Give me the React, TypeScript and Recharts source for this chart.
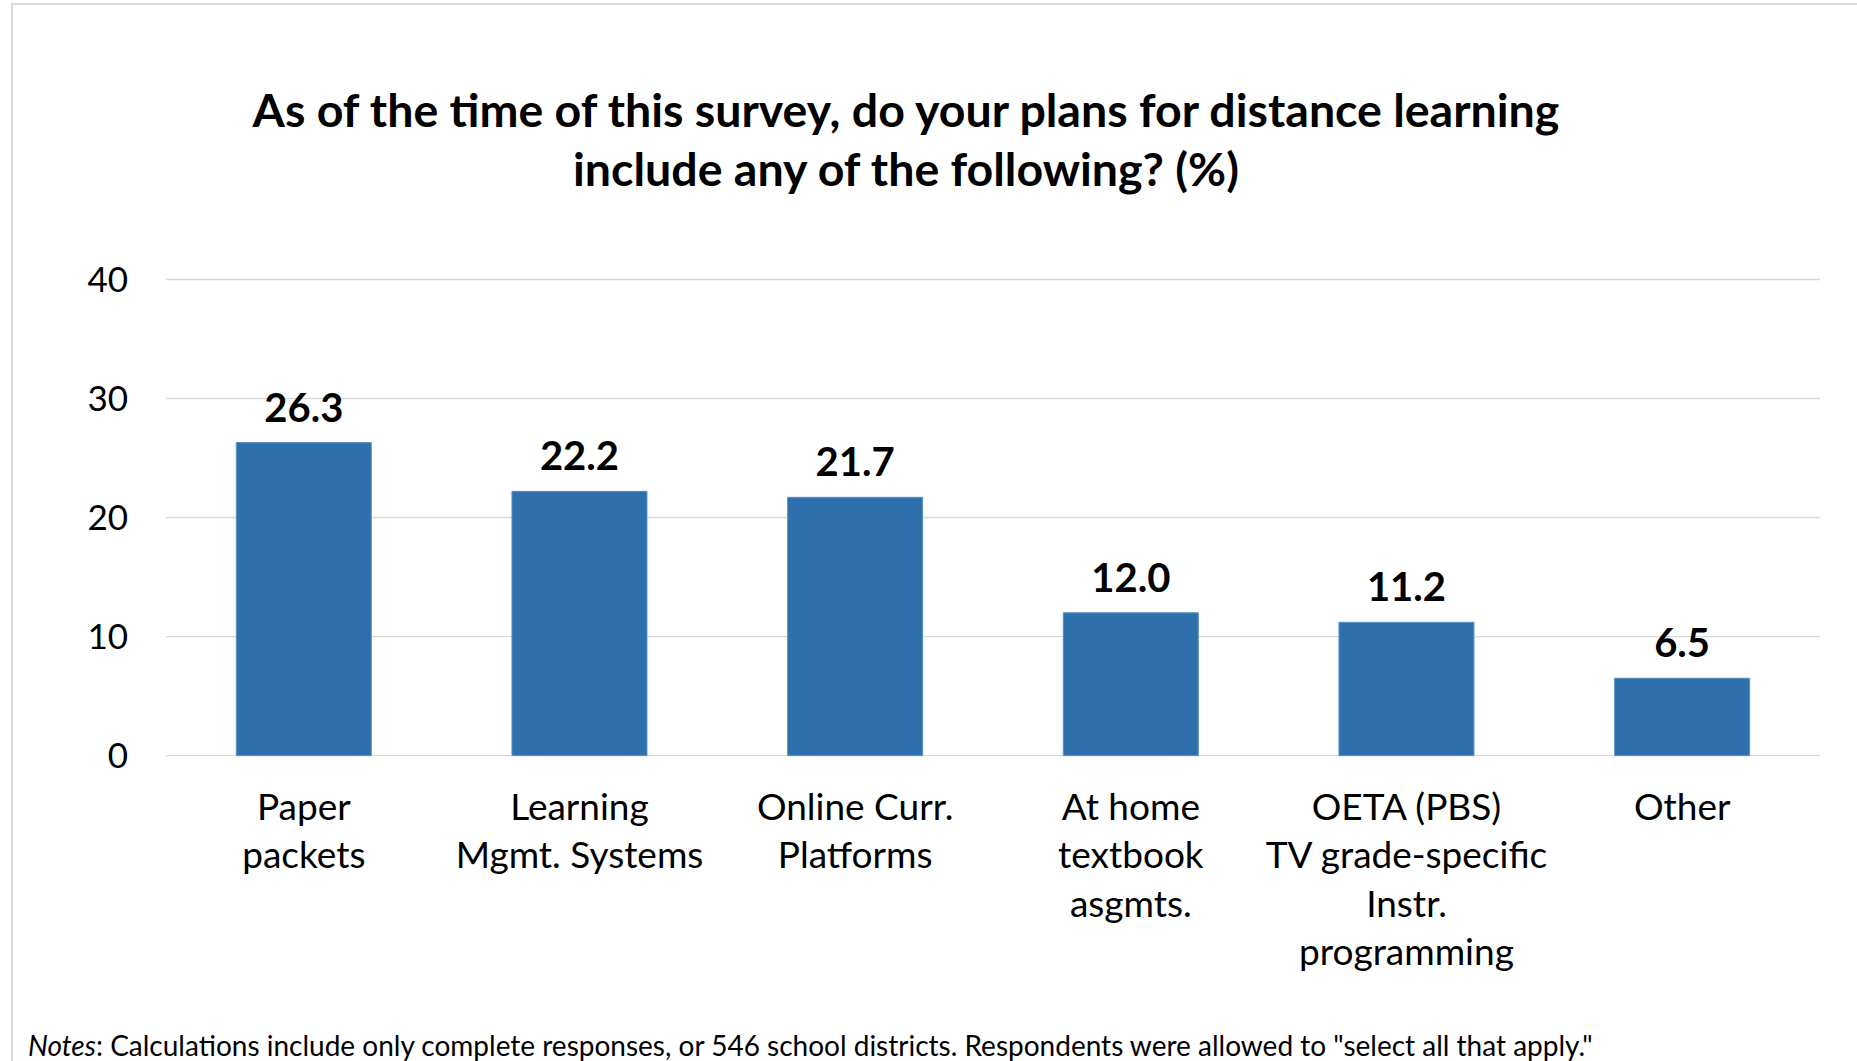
import React from "react";
import { BarChart, Bar, XAxis, YAxis, CartesianGrid, LabelList } from "recharts";

const categories: string[][] = [
  ["Paper", "packets"],
  ["Learning", "Mgmt. Systems"],
  ["Online Curr.", "Platforms"],
  ["At home", "textbook", "asgmts."],
  ["OETA (PBS)", "TV grade-specific", "Instr.", "programming"],
  ["Other"],
];
const values: number[] = [26.3, 22.2, 21.7, 12.0, 11.2, 6.5];
const yTicks: number[] = [0, 10, 20, 30, 40];

const titleLines = [
  "As of the time of this survey, do your plans for distance learning",
  "include any of the following? (%)",
];

const data = categories.map((c, i) => ({ name: c.join(" "), lines: c, value: values[i] }));

const FONT = "Lato, 'Open Sans', sans-serif";

const XTick = (props: any) => {
  const { x, y, payload, index } = props;
  const lines = categories[index] || [payload.value];
  return (
    <g transform={`translate(${x},${y})`}>
      <text textAnchor="middle" fontFamily={FONT} fontSize={37} fill="#000">
        {lines.map((l, i) => (
          <tspan key={i} x={0} y={64 + i * 48.6}>
            {l}
          </tspan>
        ))}
      </text>
    </g>
  );
};

export default function App() {
  return (
    <div style={{ position: "absolute", left: 0, top: 0, width: 1857, height: 1061, background: "#fff", overflow: "hidden", fontFamily: FONT }}>
      <div style={{ position: "absolute", left: 11, top: 3, width: 1846, height: 1058, borderLeft: "2px solid #d9d9d9", borderTop: "2px solid #d9d9d9" }} />
      <div style={{ position: "absolute", left: 0, top: 80, width: 1812, textAlign: "center", fontWeight: 700, fontSize: 46.5, lineHeight: "59px", color: "#000" }}>
        {titleLines.map((t, i) => (
          <div key={i}>{t}</div>
        ))}
      </div>
      <div style={{ position: "absolute", left: 0, top: 0 }}>
        <BarChart
          width={1857}
          height={1061}
          data={data}
          margin={{ top: 279.5, right: 37, bottom: 275.4, left: 66 }}
          barCategoryGap="25.5%"
        >
          <CartesianGrid vertical={false} stroke="#d9d9d9" strokeWidth={1.4} />
          <XAxis dataKey="name" axisLine={false} tickLine={false} tickSize={0} tickMargin={0} tick={<XTick />} interval={0} />
          <YAxis
            domain={[0, 40]}
            ticks={yTicks}
            axisLine={false}
            tickLine={false}
            tickSize={0}
            tickMargin={38}
            width={100}
            tick={{ fill: "#000", fontSize: 35, fontFamily: FONT }}
          />
          <Bar dataKey="value" fill="#2E70AC" stroke="#5b8fc7" strokeWidth={1} isAnimationActive={false}>
            <LabelList
              dataKey="value"
              position="top"
              offset={21}
              formatter={(v: any) => Number(v).toFixed(1)}
              style={{ fill: "#000", fontWeight: 700, fontSize: 40, fontFamily: FONT }}
            />
          </Bar>
        </BarChart>
      </div>
      <div style={{ position: "absolute", left: 28, top: 1028, fontSize: 28, whiteSpace: "nowrap", color: "#000" }}>
        <i>Notes</i>: Calculations include only complete responses, or 546 school districts. Respondents were allowed to "select all that apply."
      </div>
    </div>
  );
}
